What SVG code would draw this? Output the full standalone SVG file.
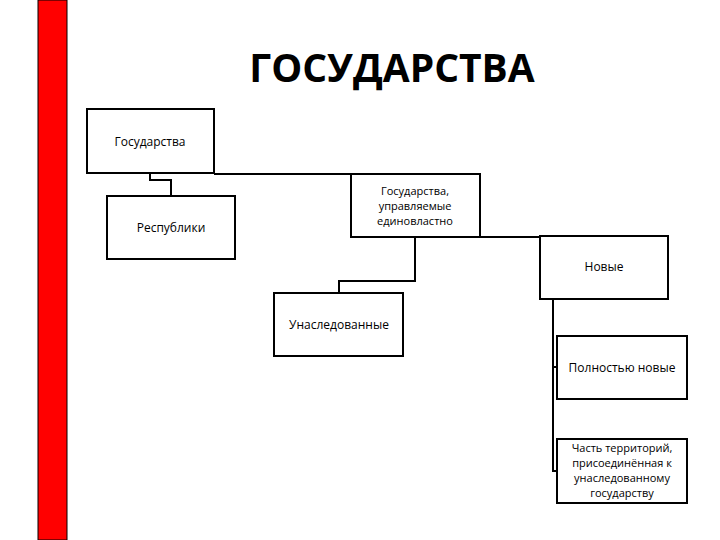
<svg xmlns="http://www.w3.org/2000/svg" width="720" height="540" viewBox="0 0 720 540">
<style>
.b{fill:#fff;stroke:#000;stroke-width:2}
.t{font-family:"Open Sans","DejaVu Sans",sans-serif;font-size:12px;text-anchor:middle;fill:#000}
.s{font-size:11px}
.c{fill:none;stroke:#000;stroke-width:2}
</style>
<rect width="720" height="540" fill="#fff"/>
<rect x="38" y="0" width="29" height="540" fill="#f00" stroke="#000" stroke-width="1"/>
<text x="392" y="82" font-family="'Open Sans','DejaVu Sans',sans-serif" font-weight="bold" font-size="39" text-anchor="middle">ГОСУДАРСТВА</text>
<g id="connectors">
<path class="c" d="M214 174H351"/>
<path class="c" d="M150 174V180H171V196"/>
<path class="c" d="M480 237H540"/>
<path class="c" d="M415 237V281H339V293"/>
<path class="c" d="M553 299V471H557M553 367H557"/>
</g>
<g id="n1"><rect class="b" x="87" y="109" width="127" height="64"/><text class="t" x="150" y="146">Государства</text></g>
<g id="n2"><rect class="b" x="107" y="196" width="128" height="63"/><text class="t" x="171" y="232">Республики</text></g>
<g id="n3"><rect class="b" x="351" y="174" width="129" height="63"/><text class="t s" x="415" y="195">Государства,</text><text class="t s" x="415" y="210">управляемые</text><text class="t s" x="415" y="225">единовластно</text></g>
<g id="n4"><rect class="b" x="540" y="236" width="128" height="63"/><text class="t" x="604" y="271">Новые</text></g>
<g id="n5"><rect class="b" x="274" y="293" width="129" height="63"/><text class="t" x="339" y="329">Унаследованные</text></g>
<g id="n6"><rect class="b" x="557" y="336" width="130" height="63"/><text class="t" x="622" y="372">Полностью новые</text></g>
<g id="n7"><rect class="b" x="557" y="439" width="130" height="64"/><text class="t s" x="622" y="452">Часть территорий,</text><text class="t s" x="622" y="467">присоединённая к</text><text class="t s" x="622" y="482">унаследованному</text><text class="t s" x="622" y="497">государству</text></g>
</svg>
